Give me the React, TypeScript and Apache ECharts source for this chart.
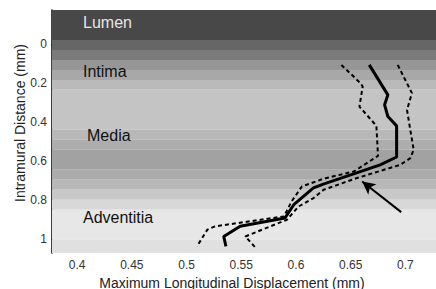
import React, { useEffect, useRef } from "react";
import * as echarts from "echarts";

// Tick labels
const xTicks = [0.4, 0.45, 0.5, 0.55, 0.6, 0.65, 0.7];
const yTicks = [0, 0.2, 0.4, 0.6, 0.8, 1];

// Mean profile (solid) : [displacement mm, intramural distance mm]
const meanX = [0.667, 0.684, 0.681, 0.684, 0.692, 0.692, 0.677, 0.625, 0.616, 0.598, 0.59, 0.549, 0.534, 0.536];
const meanY = [0.106, 0.26, 0.311, 0.371, 0.419, 0.579, 0.619, 0.718, 0.738, 0.824, 0.892, 0.935, 0.987, 1.038];

// Lower bound (left dashed)
const lowX = [0.6415, 0.659, 0.661, 0.658, 0.6735, 0.675, 0.653, 0.625, 0.6055, 0.596, 0.589, 0.526, 0.519, 0.5095];
const lowY = [0.106, 0.2, 0.217, 0.32, 0.419, 0.573, 0.653, 0.691, 0.73, 0.807, 0.884, 0.935, 0.952, 1.038];

// Upper bound (right dashed)
const highX = [0.693, 0.706, 0.7015, 0.7045, 0.7076, 0.7045, 0.6954, 0.6558, 0.6253, 0.6161, 0.6024, 0.5918, 0.5537, 0.5628];
const highY = [0.106, 0.251, 0.337, 0.44, 0.542, 0.585, 0.619, 0.687, 0.747, 0.79, 0.833, 0.901, 0.987, 1.043];

// Tissue background bands (intramural distance, mm) and grey levels
const bandEdges = [-0.176, -0.022, 0.029, 0.081, 0.132, 0.183, 0.234, 0.439, 0.491, 0.542, 0.645, 0.696, 0.747, 0.798, 0.85, 1.004, 1.072];
const bandGrays = ["#484848", "#666666", "#7b7b7b", "#969696", "#a8a8a8", "#bababa", "#c4c4c4", "#b8b8b8", "#adadad", "#a2a2a2", "#ababab", "#b8b8b8", "#c8c8c8", "#d8d8d8", "#e7e7e7", "#e0e0e0"];

// Arrow: tail -> head
const arrowTail = [0.6962, 0.862];
const arrowHead = [0.6605, 0.705];

// Region labels
const regionLabels = ["Lumen", "Intima", "Media", "Adventitia"];

const zip = (xs: number[], ys: number[]) => xs.map((x, i) => [x, ys[i]]);

const FONT = "Liberation Sans, Arial, sans-serif";

export default function App() {
  const ref = useRef<HTMLDivElement>(null);
  useEffect(() => {
    if (!ref.current) return;
    const chart = echarts.init(ref.current, null, { renderer: "svg" });
    const bands = bandGrays.map((c, i) => [
      { yAxis: bandEdges[i], itemStyle: { color: c } },
      { yAxis: bandEdges[i + 1] },
    ]);
    const labelPos = [
      { x: 83, y: 23, fill: "#e6e6e6" },
      { x: 83, y: 72, fill: "#111" },
      { x: 87, y: 136.5, fill: "#111" },
      { x: 83, y: 218, fill: "#111" },
    ];
    chart.setOption({
      animation: false,
      backgroundColor: "#ffffff",
      grid: { left: 52, top: 10, right: 0, bottom: 36 },
      xAxis: {
        type: "value",
        min: 0.377,
        max: 0.728,
        axisLine: { show: true, lineStyle: { color: "#000", width: 1.5 } },
        axisTick: { show: false },
        splitLine: { show: false },
        axisLabel: {
          customValues: xTicks,
          color: "#333",
          fontSize: 12,
          fontFamily: FONT,
          margin: 6,
        },
      },
      yAxis: {
        type: "value",
        inverse: true,
        min: -0.176,
        max: 1.072,
        axisLine: { show: true, lineStyle: { color: "#000", width: 1.5 } },
        axisTick: { show: false },
        splitLine: { show: false },
        axisLabel: {
          customValues: yTicks,
          color: "#333",
          fontSize: 12,
          fontFamily: FONT,
          margin: 5,
        },
      },
      series: [
        {
          type: "line",
          data: zip(meanX, meanY),
          showSymbol: false,
          lineStyle: { color: "#000", width: 3 },
          z: 3,
          markArea: { silent: true, label: { show: false }, data: bands },
          markLine: {
            silent: true,
            symbol: ["none", "arrow"],
            symbolSize: [10, 13],
            label: { show: false },
            lineStyle: { color: "#000", width: 2, type: "solid" },
            data: [[{ coord: arrowTail }, { coord: arrowHead }]],
          },
        },
        {
          type: "line",
          data: zip(lowX, lowY),
          showSymbol: false,
          lineStyle: { color: "#000", width: 2, type: [4, 3] },
        },
        {
          type: "line",
          data: zip(highX, highY),
          showSymbol: false,
          lineStyle: { color: "#000", width: 2, type: [4, 3] },
        },
      ],
      graphic: [
        ...regionLabels.map((t, i) => ({
          type: "text",
          left: labelPos[i].x,
          top: labelPos[i].y - 9,
          z: 10,
          style: { text: t, fill: labelPos[i].fill, fontSize: 16, fontFamily: FONT },
        })),
        {
          type: "text",
          x: 20,
          y: 123,
          rotation: Math.PI / 2,
          z: 10,
          style: {
            text: "Intramural Distance (mm)",
            fill: "#222",
            fontSize: 14,
            fontFamily: FONT,
            align: "center",
            verticalAlign: "middle",
          },
        },
        {
          type: "text",
          x: 232,
          y: 282.5,
          z: 10,
          style: {
            text: "Maximum Longitudinal Displacement (mm)",
            fill: "#222",
            fontSize: 14,
            fontFamily: FONT,
            align: "center",
            verticalAlign: "middle",
          },
        },
      ],
    });
    return () => chart.dispose();
  }, []);
  return (
    <div
      ref={ref}
      style={{ position: "fixed", left: 0, top: 0, width: 436, height: 289 }}
    />
  );
}
